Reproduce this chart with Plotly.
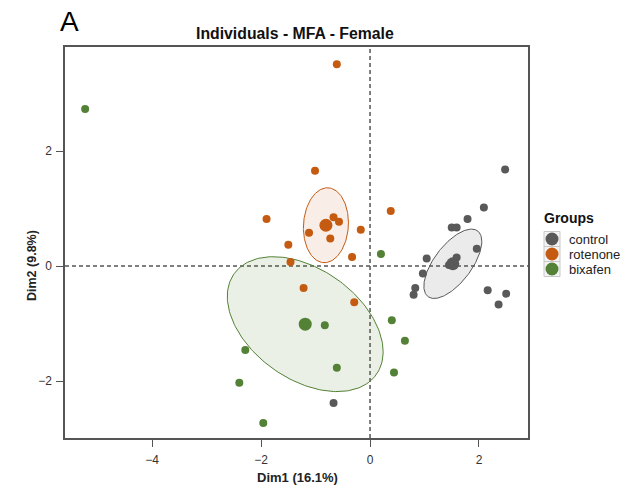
import numpy as np
import plotly.graph_objects as go

groups = ["control", "rotenone", "bixafen"]
colors = ["#595959", "#C55A11", "#538135"]
fill_colors = ["rgba(89,89,89,0.12)", "rgba(197,90,17,0.10)", "rgba(83,129,53,0.12)"]

control_x = [2.48, 2.09, 1.79, 1.50, 1.59, 1.04, 0.97, 0.83, 0.80, 1.59, 1.96, 2.16, 2.50, 2.36, -0.67, 1.45]
control_y = [1.68, 1.02, 0.82, 0.67, 0.67, 0.13, -0.13, -0.38, -0.50, 0.15, 0.30, -0.42, -0.48, -0.67, -2.38, 0.02]

rotenone_x = [-0.61, -1.01, 0.38, -0.67, -0.57, -1.12, -0.17, -0.73, -1.90, -1.50, -1.46, -1.22, -0.29, -0.33]
rotenone_y = [3.51, 1.66, 0.96, 0.85, 0.77, 0.58, 0.63, 0.48, 0.82, 0.37, 0.07, -0.38, -0.63, 0.16]

bixafen_x = [-5.23, 0.20, -2.29, -2.40, -1.96, -0.83, -0.61, 0.40, 0.64, 0.44]
bixafen_y = [2.73, 0.21, -1.46, -2.03, -2.73, -1.03, -1.77, -0.94, -1.30, -1.85]

mean_x = [1.52, -0.81, -1.19]
mean_y = [0.04, 0.71, -1.01]

# confidence ellipse parameters (variance x, variance y, covariance)
ell_vx = [0.283, 0.171, 2.046]
ell_vy = [0.364, 0.425, 1.376]
ell_cxy = [0.207, 0.018, -0.688]

x_ticks = [-4, -2, 0, 2]
y_ticks = [-2, 0, 2]
x_range = [-5.6, 2.9]
y_range = [-2.99, 3.81]

xs = [control_x, rotenone_x, bixafen_x]
ys = [control_y, rotenone_y, bixafen_y]

W, H = 635, 489
ML, MR, MT, MB = 65, 107, 47, 51
PW, PH = W - ML - MR, H - MT - MB


def px(xp):
    return (xp - ML) / PW


def py(yp):
    return (H - MB - yp) / PH


fig = go.Figure()

t = np.linspace(0, 2 * np.pi, 200)
for i in range(3):
    sx = np.sqrt(ell_vx[i])
    k = ell_cxy[i] / sx
    r = np.sqrt(ell_vy[i] - k * k)
    ex = mean_x[i] + sx * np.cos(t)
    ey = mean_y[i] + k * np.cos(t) + r * np.sin(t)
    fig.add_trace(go.Scatter(x=ex, y=ey, mode="lines", fill="toself",
                             fillcolor=fill_colors[i],
                             line=dict(color=colors[i], width=1),
                             showlegend=False, hoverinfo="skip"))

for i in range(3):
    fig.add_trace(go.Scatter(x=xs[i], y=ys[i], mode="markers", name=groups[i],
                             marker=dict(color=colors[i], size=8),
                             showlegend=False))

for i in range(3):
    fig.add_trace(go.Scatter(x=[mean_x[i]], y=[mean_y[i]], mode="markers",
                             marker=dict(color=colors[i], size=13),
                             showlegend=False))

dash_line = dict(color="#555555", width=1.5, dash="4px,3px")
fig.add_shape(type="line", xref="x", yref="paper", x0=0, x1=0, y0=0, y1=1,
              line=dash_line, layer="below")
fig.add_shape(type="line", xref="paper", yref="y", x0=0, x1=1, y0=0, y1=0,
              line=dash_line, layer="below")

# manual legend (ggplot-style keys)
annotations = []
leg_y = [239, 254, 269]
for i in range(3):
    cy = leg_y[i]
    fig.add_shape(type="rect", xref="paper", yref="paper",
                  x0=px(544), x1=px(560), y0=py(cy + 7.5), y1=py(cy - 7.5),
                  line=dict(color="#C8C8C8", width=1), fillcolor="#F4F4F4")
    fig.add_shape(type="circle", xref="paper", yref="paper",
                  x0=px(545.5), x1=px(558.5), y0=py(cy + 6.5), y1=py(cy - 6.5),
                  line=dict(color=colors[i], width=0), fillcolor=colors[i])
    annotations.append(dict(text=groups[i], xref="paper", yref="paper",
                            x=px(567), y=py(cy), xanchor="left", yanchor="middle",
                            showarrow=False, font=dict(size=13, color="#222222")))
annotations.append(dict(text="<b>Groups</b>", xref="paper", yref="paper",
                        x=px(542), y=py(218), xanchor="left", yanchor="middle",
                        showarrow=False, font=dict(size=14, color="#111111")))

annotations += [
    dict(text="A", xref="paper", yref="paper", x=px(69), y=py(22),
         xanchor="center", yanchor="middle", showarrow=False,
         font=dict(size=28, color="#000000")),
    dict(text="<b>Dim1 (16.1%)</b>", xref="paper", yref="paper", x=px(297), y=py(477),
         xanchor="center", yanchor="middle", showarrow=False,
         font=dict(size=13, color="#222222")),
    dict(text="<b>Dim2 (9.8%)</b>", xref="paper", yref="paper", x=px(32),
         y=py(266), xanchor="center", yanchor="middle", textangle=-90, showarrow=False,
         font=dict(size=12.5, color="#222222")),
    dict(text="<b>Individuals - MFA - Female</b>", xref="paper", yref="paper",
         x=px(295), y=py(34), xanchor="center", yanchor="middle", showarrow=False,
         font=dict(size=15.8, color="#111111")),
]

axis_common = dict(showgrid=False, zeroline=False, showline=True, mirror=True,
                   linecolor="#555555", linewidth=1.5, ticks="outside", ticklen=7,
                   tickcolor="#555555", tickfont=dict(size=12, color="#333333",
                                                      family="Liberation Sans"))

fig.update_layout(
    width=W, height=H,
    margin=dict(l=ML, r=MR, t=MT, b=MB, autoexpand=False),
    paper_bgcolor="white", plot_bgcolor="white",
    font=dict(family="Liberation Sans", color="#222222"),
    xaxis=dict(range=x_range, tickvals=x_ticks, ticklabelstandoff=3, **axis_common),
    yaxis=dict(range=y_range, tickvals=y_ticks, ticklabelstandoff=2, **axis_common),
    showlegend=False,
    annotations=annotations,
)

fig.write_html("out.html", config={"displayModeBar": False},
               post_script="document.body.style.margin='0';document.body.style.overflow='hidden';")
